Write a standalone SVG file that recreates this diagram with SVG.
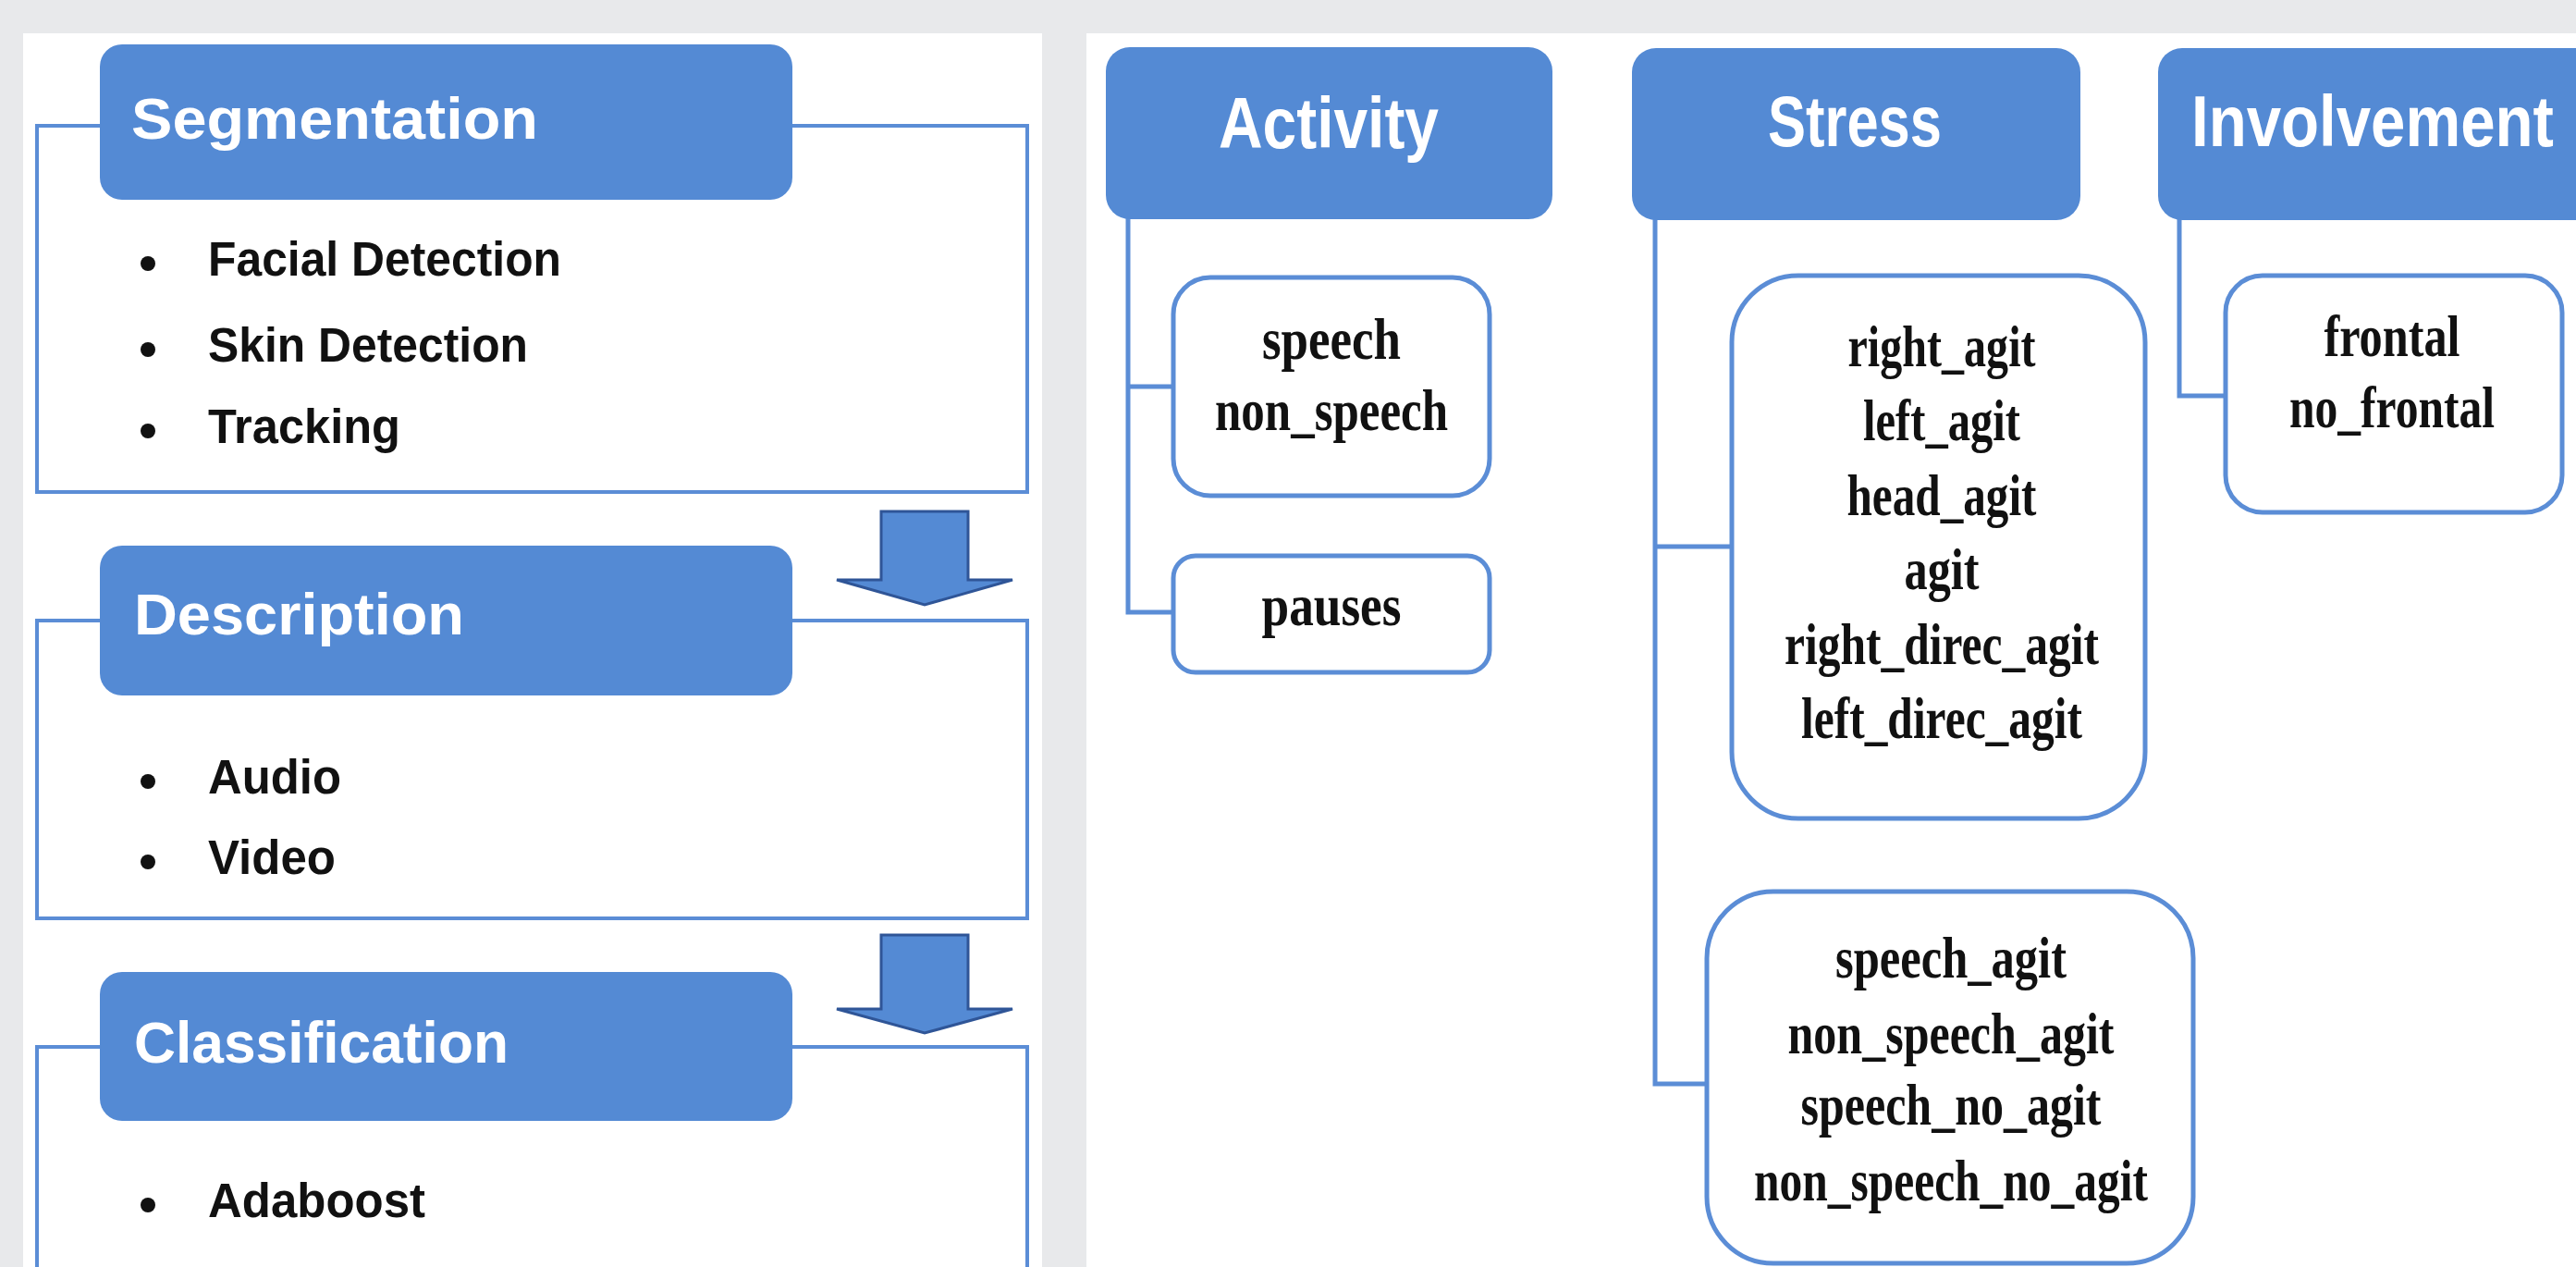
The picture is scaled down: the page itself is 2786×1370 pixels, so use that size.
<svg xmlns="http://www.w3.org/2000/svg" width="2786" height="1370" viewBox="0 0 2786 1370">
<defs>
<style>
.hdr{fill:#548AD4;}
.frame{fill:none;stroke:#5B8DD6;stroke-width:4;}
.line{fill:none;stroke:#5B8DD6;stroke-width:5;}
.box{fill:#FFFFFF;stroke:#5B8DD6;stroke-width:5;}
.arrow{fill:#548AD4;stroke:#2F5597;stroke-width:3;stroke-linejoin:miter;}
.ht{font-family:"Liberation Sans",Arial,sans-serif;font-weight:bold;fill:#FFFFFF;}
.bt{font-family:"Liberation Sans",Arial,sans-serif;font-weight:bold;fill:#111111;font-size:51px;}
.st{font-family:"Liberation Serif","Times New Roman",serif;font-weight:bold;fill:#111111;font-size:64px;text-anchor:middle;}
.dot{fill:#111111;}
</style>
</defs>
<rect x="0" y="0" width="2786" height="1370" fill="#E8E9EB"/>
<rect x="25" y="36" width="1102" height="1334" fill="#FFFFFF"/>
<rect x="1175" y="36" width="1611" height="1334" fill="#FFFFFF"/>

<g id="connectors">
<polygon class="arrow" points="953,553 1047,553 1047,627 1095,627 1000,654 905,627 953,627"/>
<polygon class="arrow" points="953,1011 1047,1011 1047,1091 1095,1091 1000,1117 905,1091 953,1091"/>
<path class="line" d="M1220,236 V662 H1269 M1220,418 H1269"/>
<path class="line" d="M1790,237 V1172 H1846 M1790,591 H1873"/>
<path class="line" d="M2357,237 V428 H2407"/>
</g>

<g id="segmentation">
<path class="frame" d="M108,136 H40 V532 H1111 V136 H857"/>
<rect class="hdr" x="108" y="48" width="749" height="168" rx="24"/>
<text class="ht" x="142" y="150" font-size="63" textLength="440" lengthAdjust="spacingAndGlyphs">Segmentation</text>
<circle class="dot" cx="160" cy="285" r="8"/>
<text class="bt" x="225" y="298" textLength="382" lengthAdjust="spacingAndGlyphs">Facial Detection</text>
<circle class="dot" cx="160" cy="378" r="8"/>
<text class="bt" x="225" y="391" textLength="346" lengthAdjust="spacingAndGlyphs">Skin Detection</text>
<circle class="dot" cx="160" cy="466" r="8"/>
<text class="bt" x="225" y="479" textLength="208" lengthAdjust="spacingAndGlyphs">Tracking</text>
</g>

<g id="description">
<path class="frame" d="M108,671 H40 V993 H1111 V671 H857"/>
<rect class="hdr" x="108" y="590" width="749" height="162" rx="24"/>
<text class="ht" x="145" y="686" font-size="63" textLength="357" lengthAdjust="spacingAndGlyphs">Description</text>
<circle class="dot" cx="160" cy="845" r="8"/>
<text class="bt" x="225" y="858" textLength="144" lengthAdjust="spacingAndGlyphs">Audio</text>
<circle class="dot" cx="160" cy="932" r="8"/>
<text class="bt" x="225" y="945" textLength="138" lengthAdjust="spacingAndGlyphs">Video</text>
</g>

<g id="classification">
<path class="frame" d="M108,1132 H40 V1375 M1111,1375 V1132 H857"/>
<rect class="hdr" x="108" y="1051" width="749" height="161" rx="24"/>
<text class="ht" x="145" y="1149" font-size="63" textLength="405" lengthAdjust="spacingAndGlyphs">Classification</text>
<circle class="dot" cx="160" cy="1303" r="8"/>
<text class="bt" x="225" y="1316" textLength="235" lengthAdjust="spacingAndGlyphs">Adaboost</text>
</g>

<g id="activity">
<rect class="hdr" x="1196" y="51" width="483" height="186" rx="26"/>
<text class="ht" x="1437" y="160" font-size="78" text-anchor="middle" textLength="238" lengthAdjust="spacingAndGlyphs">Activity</text>
</g>
<g id="activity-speech">
<rect class="box" x="1269" y="300" width="342" height="236" rx="40"/>
<text class="st" x="1440" y="388" textLength="150" lengthAdjust="spacingAndGlyphs">speech</text>
<text class="st" x="1440" y="465" textLength="252" lengthAdjust="spacingAndGlyphs">non_speech</text>
</g>
<g id="activity-pauses">
<rect class="box" x="1269" y="601" width="342" height="126" rx="24"/>
<text class="st" x="1440" y="676" textLength="151" lengthAdjust="spacingAndGlyphs">pauses</text>
</g>

<g id="stress">
<rect class="hdr" x="1765" y="52" width="485" height="186" rx="26"/>
<text class="ht" x="2006" y="158" font-size="78" text-anchor="middle" textLength="188" lengthAdjust="spacingAndGlyphs">Stress</text>
</g>
<g id="stress-agit">
<rect class="box" x="1873" y="298" width="447" height="587" rx="72"/>
<text class="st" x="2100" y="396" textLength="203" lengthAdjust="spacingAndGlyphs">right_agit</text>
<text class="st" x="2100" y="476" textLength="170" lengthAdjust="spacingAndGlyphs">left_agit</text>
<text class="st" x="2100" y="557" textLength="205" lengthAdjust="spacingAndGlyphs">head_agit</text>
<text class="st" x="2100" y="637" textLength="81" lengthAdjust="spacingAndGlyphs">agit</text>
<text class="st" x="2100" y="718" textLength="340" lengthAdjust="spacingAndGlyphs">right_direc_agit</text>
<text class="st" x="2100" y="798" textLength="304" lengthAdjust="spacingAndGlyphs">left_direc_agit</text>
</g>
<g id="stress-speech">
<rect class="box" x="1846" y="964" width="526" height="402" rx="72"/>
<text class="st" x="2110" y="1057" textLength="250" lengthAdjust="spacingAndGlyphs">speech_agit</text>
<text class="st" x="2110" y="1139" textLength="353" lengthAdjust="spacingAndGlyphs">non_speech_agit</text>
<text class="st" x="2110" y="1216" textLength="325" lengthAdjust="spacingAndGlyphs">speech_no_agit</text>
<text class="st" x="2110" y="1298" textLength="426" lengthAdjust="spacingAndGlyphs">non_speech_no_agit</text>
</g>

<g id="involvement">
<rect class="hdr" x="2334" y="52" width="500" height="186" rx="26"/>
<text class="ht" x="2370" y="158" font-size="78" textLength="392" lengthAdjust="spacingAndGlyphs">Involvement</text>
</g>
<g id="involvement-frontal">
<rect class="box" x="2407" y="298" width="364" height="256" rx="40"/>
<text class="st" x="2587" y="385" textLength="147" lengthAdjust="spacingAndGlyphs">frontal</text>
<text class="st" x="2587" y="462" textLength="222" lengthAdjust="spacingAndGlyphs">no_frontal</text>
</g>
</svg>
